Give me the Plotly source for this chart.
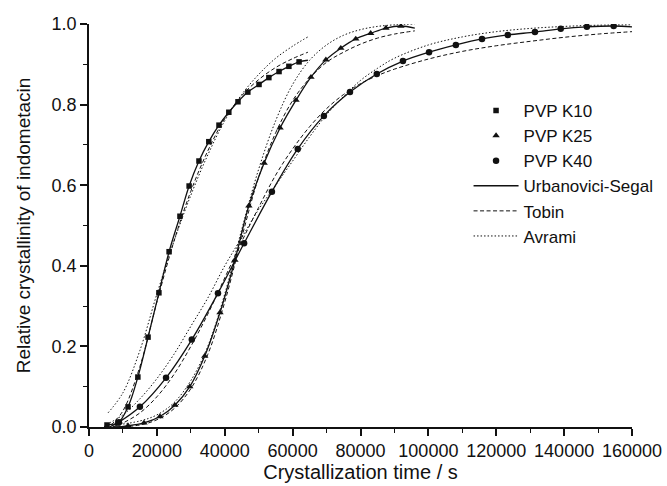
import plotly.graph_objects as go

k10_t = [5300, 8500, 11500, 14400, 17400, 20600, 23600, 26800, 29500, 32400, 35300,
         38300, 41200, 43900, 46800, 50100, 53000, 56000, 58900, 61900]
k10_x = [0.005, 0.01, 0.05, 0.124, 0.223, 0.333, 0.435, 0.523, 0.598, 0.66, 0.708,
         0.749, 0.781, 0.807, 0.831, 0.850, 0.867, 0.882, 0.895, 0.906]

k25_t = [11500, 16200, 20900, 25300, 29700, 34100, 38600, 43000, 47100, 51600, 56300,
         61000, 65400, 69800, 74200, 78600, 83000, 87500, 91900]
k25_x = [0.003, 0.01, 0.026, 0.054, 0.10, 0.176, 0.284, 0.414, 0.549, 0.655, 0.742,
         0.811, 0.868, 0.911, 0.94, 0.963, 0.977, 0.99, 0.995]

k40_t = [8800, 15000, 22700, 30300, 38000, 45700, 53900, 61500, 69200, 76900, 84800,
         92500, 100200, 108100, 115800, 123400, 131400, 139000, 146700, 154600]
k40_x = [0.012, 0.05, 0.122, 0.217, 0.332, 0.456, 0.584, 0.690, 0.772, 0.831, 0.876,
         0.908, 0.93, 0.948, 0.963, 0.973, 0.980, 0.988, 0.993, 0.995]

# ---- fitted curves ----
k10_us_t = [4500] + k10_t + [64500]
k10_us_x = [0.0] + k10_x + [0.91]
k10_tb_t = [6500, 10000, 15000, 20000, 25000, 30000, 35000, 40000, 45000, 50000, 55000, 60000, 64500]
k10_tb_x = [0.005, 0.04, 0.15, 0.31, 0.46, 0.585, 0.685, 0.765, 0.822, 0.862, 0.892, 0.914, 0.93]
k10_av_t = [5600, 10000, 15000, 20000, 25000, 30000, 35000, 40000, 45000, 50000, 55000, 60000, 64500]
k10_av_x = [0.035, 0.085, 0.19, 0.33, 0.46, 0.575, 0.675, 0.76, 0.825, 0.875, 0.915, 0.945, 0.968]

k25_us_t = [7000] + k25_t + [96000]
k25_us_x = [0.0] + k25_x + [0.99]
k25_tb_t = [8000, 15000, 20000, 25000, 30000, 35000, 40000, 45000, 50000, 55000, 60000, 65000,
            70000, 75000, 80000, 85000, 90000, 96000]
k25_tb_x = [0.0, 0.005, 0.018, 0.045, 0.095, 0.18, 0.31, 0.47, 0.62, 0.73, 0.81, 0.865,
            0.905, 0.93, 0.95, 0.965, 0.975, 0.983]
k25_av_t = [8000, 15000, 20000, 25000, 30000, 35000, 40000, 45000, 50000, 55000, 60000, 65000,
            70000, 75000, 80000, 85000, 90000, 96000]
k25_av_x = [0.005, 0.015, 0.03, 0.06, 0.115, 0.2, 0.33, 0.49, 0.64, 0.76, 0.85, 0.91,
            0.948, 0.972, 0.986, 0.994, 0.998, 1.0]

k40_us_t = [6000] + k40_t + [160000]
k40_us_x = [0.0] + k40_x + [0.993]
k40_tb_t = [7000, 10000, 15000, 20000, 25000, 30000, 35000, 40000, 45000, 50000, 55000, 60000,
            65000, 70000, 75000, 80000, 85000, 90000, 100000, 110000, 120000, 130000, 140000,
            150000, 160000]
k40_tb_x = [0.0, 0.01, 0.035, 0.075, 0.13, 0.2, 0.28, 0.37, 0.46, 0.545, 0.625, 0.69,
            0.745, 0.79, 0.825, 0.852, 0.872, 0.888, 0.913, 0.932, 0.946, 0.957, 0.967,
            0.975, 0.981]
k40_av_t = [6000, 10000, 15000, 20000, 25000, 30000, 35000, 40000, 45000, 50000, 55000, 60000,
            65000, 70000, 75000, 80000, 85000, 90000, 100000, 110000, 120000, 130000, 140000,
            150000, 160000]
k40_av_x = [0.01, 0.03, 0.07, 0.12, 0.18, 0.25, 0.32, 0.4, 0.47, 0.54, 0.6, 0.66,
            0.72, 0.775, 0.82, 0.86, 0.89, 0.915, 0.948, 0.968, 0.981, 0.989, 0.994,
            0.997, 0.998]

x_ticks = [0, 20000, 40000, 60000, 80000, 100000, 120000, 140000, 160000]
y_ticks = [0.0, 0.2, 0.4, 0.6, 0.8, 1.0]

FONT = "Liberation Sans, Arial, sans-serif"
BLACK = "#111111"

fig = go.Figure()

fits = [
    (k10_tb_t, k10_tb_x, "Tobin", "4px,2.5px", 1.0),
    (k25_tb_t, k25_tb_x, "Tobin", "4px,2.5px", 1.0),
    (k40_tb_t, k40_tb_x, "Tobin", "4px,2.5px", 1.0),
    (k10_av_t, k10_av_x, "Avrami", "1.5px,2px", 1.0),
    (k25_av_t, k25_av_x, "Avrami", "1.5px,2px", 1.0),
    (k40_av_t, k40_av_x, "Avrami", "1.5px,2px", 1.0),
    (k10_us_t, k10_us_x, "Urbanovici-Segal", "solid", 1.3),
    (k25_us_t, k25_us_x, "Urbanovici-Segal", "solid", 1.3),
    (k40_us_t, k40_us_x, "Urbanovici-Segal", "solid", 1.3),
]
rank = {"Urbanovici-Segal": 4, "Tobin": 5, "Avrami": 6}
shown = set()
for t, x, name, dash, w in fits:
    fig.add_trace(go.Scatter(
        x=t, y=x, mode="lines", name=name, line_shape="spline",
        line=dict(color=BLACK, width=w, dash=dash),
        showlegend=name not in shown, legendrank=rank[name], legendgroup=name))
    shown.add(name)

data = [
    (k10_t, k10_x, "PVP K10", "square", 5.5, 1),
    (k25_t, k25_x, "PVP K25", "triangle-up", 6.5, 2),
    (k40_t, k40_x, "PVP K40", "circle", 6.5, 3),
]
for t, x, name, sym, sz, r in data:
    fig.add_trace(go.Scatter(
        x=t, y=x, mode="markers", name=name, legendrank=r,
        marker=dict(symbol=sym, size=sz, color=BLACK, line=dict(width=0))))

fig.update_layout(
    width=667, height=486,
    margin=dict(l=89, r=35, t=24, b=59, autoexpand=False),
    paper_bgcolor="white", plot_bgcolor="white",
    font=dict(family=FONT, size=18, color=BLACK),
    legend=dict(x=0.699, y=0.829, xanchor="left", yanchor="top",
                bgcolor="rgba(0,0,0,0)", font=dict(size=17), itemwidth=45,
                tracegroupgap=0),
    showlegend=True,
)
fig.update_xaxes(
    range=[0, 160000], tickvals=x_ticks, ticktext=[str(v) for v in x_ticks],
    automargin=False,
    showgrid=False, zeroline=False, showline=True, linecolor=BLACK, linewidth=1.5,
    ticks="outside", ticklen=7, tickwidth=1.5, tickcolor=BLACK,
    minor=dict(dtick=10000, ticks="outside", ticklen=4, tickwidth=1.2, tickcolor=BLACK),
    title=dict(text="Crystallization time / s", font=dict(size=20), standoff=5),
    tickfont=dict(size=18),
)
fig.update_yaxes(
    range=[0, 1.0], tickvals=y_ticks, ticktext=[f"{v:.1f}" for v in y_ticks],
    automargin=False,
    showgrid=False, zeroline=False, showline=True, linecolor=BLACK, linewidth=1.5,
    ticks="outside", ticklen=7, tickwidth=1.5, tickcolor=BLACK,
    minor=dict(dtick=0.1, ticks="outside", ticklen=4, tickwidth=1.2, tickcolor=BLACK),
    title=dict(text="Relative crystallinity of indometacin", font=dict(size=19), standoff=16),
    tickfont=dict(size=18),
)

fig.write_html("out.html", config={"displayModeBar": False},
               post_script="document.body.style.margin='0';document.body.style.padding='0';")
